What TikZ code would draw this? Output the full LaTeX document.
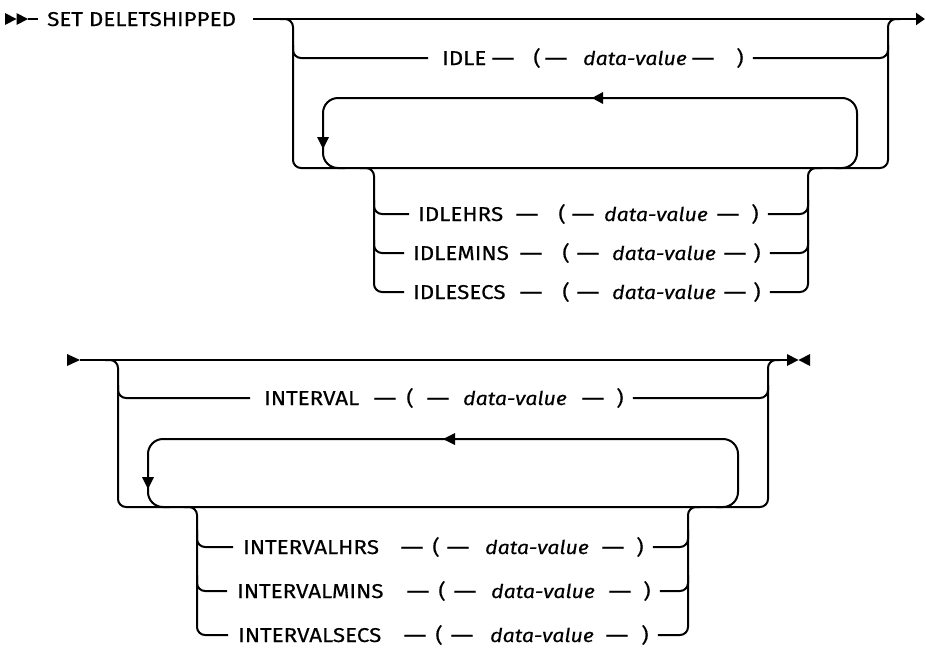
\documentclass[tikz,border=0pt]{standalone}
\usepackage{fontspec}
\setmainfont[FakeStretch=1.12,FakeBold=0.35]{Fira Sans}
\usetikzlibrary{arrows.meta}
\newcommand\bigf{\fontsize{20}{24}\selectfont}
\newcommand\longdash{\scalebox{1.3}[1]{\textemdash}}
\tikzset{
  rail/.style={line width=2pt, rounded corners=8pt},
  looprail/.style={line width=2pt, rounded corners=15pt},
  kw/.style={inner sep=0pt, anchor=base west, font=\bigf},
  sym/.style={inner sep=0pt, anchor=base, font=\bigf},
  dvs/.style={inner sep=0pt, anchor=base, font=\fontsize{19}{23}\selectfont\itshape},
  arrowhd/.style={fill=black, draw=none}
}
\newcommand\rowA[7]{%
  \node[kw] (#1k) at (#3,#2+7) {#4};
  \node[sym] (#1d1) at (#5,#2+7) {\longdash};
  \node[sym] (#1lp) at (#6,#2+7) {(};
  \node[sym] (#1d2) at (#7,#2+7) {\longdash};}
\newcommand\rowB[5]{%
  \node[dvs] (#1dv) at (#3,#2+7) {data-value};
  \node[sym] (#1d3) at (#4,#2+7) {\longdash};
  \node[sym] (#1rp) at (#5,#2+7) {)};}
\begin{document}
\begin{tikzpicture}[x=1pt,y=-1pt]
\useasboundingbox (0,0) rectangle (926,651);
% ---------------- top diagram ----------------
\fill[arrowhd] (5,13) -- (16.5,19) -- (5,25) -- cycle;
\fill[arrowhd] (16.5,13) -- (28,19) -- (16.5,25) -- cycle;
\coordinate (s0) at (28,19);
\node[kw] (set) at (47,26) {SET DELETSHIPPED};
\draw[line width=2pt] (s0) -- ([xshift=-9pt]set.west |- s0);
\coordinate (t0) at (253,19);
\coordinate (tEnd) at (925,19);
\draw[line width=2pt, -{Triangle[length=9pt,width=12pt]}] (t0) -- (tEnd);
% outer bracket
\draw[rail] (280,19) -- (293,19) -- (293,168) -- (888,168) -- (888,19) -- (900,19);
% IDLE row
\rowA{idle}{58}{442}{IDLE}{503}{537}{556}
\rowB{idle}{58}{635}{703}{740}
\draw[rail] (293,45) -- (293,58) -- ([xshift=-14pt]idlek.west |- 0,58);
\draw[rail] ([xshift=9pt]idlerp.east |- 0,58) -- (888,58) -- (888,45);
% repeat loop
\draw[looprail] (835,168) -- (857,168) -- (857,98) -- (323,98) -- (323,168) -- (345,168);
\fill[arrowhd] (592,98) -- (603,92) -- (603,104) -- cycle;
\fill[arrowhd] (323,149) -- (317,137) -- (329,137) -- cycle;
% sub group
\rowA{hrs}{214}{418}{IDLEHRS}{527}{562}{583}
\rowB{hrs}{214}{656}{728}{755}
\rowA{mins}{253}{413}{IDLEMINS}{531}{566}{588}
\rowB{mins}{253}{664}{735}{757}
\rowA{secs}{292}{413}{IDLESECS}{531}{566}{588}
\rowB{secs}{292}{664}{735}{757}
\draw[rail] (360,168) -- (374,168) -- (374,292) -- ([xshift=-9pt]secsk.west |- 0,292);
\draw[rail] (374,200) -- (374,214) -- ([xshift=-9pt]hrsk.west |- 0,214);
\draw[rail] (374,240) -- (374,253) -- ([xshift=-9pt]minsk.west |- 0,253);
\draw[rail] ([xshift=9pt]secsrp.east |- 0,292) -- (808,292) -- (808,168) -- (822,168);
\draw[rail] ([xshift=9pt]hrsrp.east |- 0,214) -- (808,214) -- (808,200);
\draw[rail] ([xshift=9pt]minsrp.east |- 0,253) -- (808,253) -- (808,240);
% ---------------- bottom diagram ----------------
\fill[arrowhd] (67,354) -- (80,360) -- (67,366) -- cycle;
\coordinate (b0) at (80,360);
\coordinate (b1) at (787,360);
\draw[line width=2pt] (b0) -- (b1);
\fill[arrowhd] (787,354) -- (798.5,360) -- (787,366) -- cycle;
\fill[arrowhd] (810,354) -- (798.5,360) -- (810,366) -- cycle;
\draw[rail] (105,360) -- (118,360) -- (118,507) -- (768,507) -- (768,360) -- (780,360);
\rowA{ivl}{398}{264}{INTERVAL}{385}{410}{438}
\rowB{ivl}{398}{515}{593}{620}
\draw[rail] (118,385) -- (118,398) -- ([xshift=-14pt]ivlk.west |- 0,398);
\draw[rail] ([xshift=9pt]ivlrp.east |- 0,398) -- (768,398) -- (768,385);
\draw[looprail] (716,507) -- (738,507) -- (738,439) -- (148,439) -- (148,507) -- (170,507);
\fill[arrowhd] (443,439) -- (455,433) -- (455,445) -- cycle;
\fill[arrowhd] (148,489) -- (142,477) -- (154,477) -- cycle;
\rowA{ihrs}{547}{243}{INTERVALHRS}{412}{436}{458}
\rowB{ihrs}{547}{537}{613}{640}
\rowA{imins}{591}{237}{INTERVALMINS}{418}{442}{465}
\rowB{imins}{591}{543}{620}{647}
\rowA{isecs}{635}{238}{INTERVALSECS}{415}{439}{462}
\rowB{isecs}{635}{542}{617}{645}
\draw[rail] (184,507) -- (197,507) -- (197,635) -- ([xshift=-10pt]isecsk.west |- 0,635);
\draw[rail] (197,530) -- (197,547) -- ([xshift=-10pt]ihrsk.west |- 0,547);
\draw[rail] (197,575) -- (197,591) -- ([xshift=-10pt]iminsk.west |- 0,591);
\draw[rail] ([xshift=9pt]isecsrp.east |- 0,635) -- (688,635) -- (688,507) -- (700,507);
\draw[rail] ([xshift=9pt]ihrsrp.east |- 0,547) -- (688,547) -- (688,530);
\draw[rail] ([xshift=9pt]iminsrp.east |- 0,591) -- (688,591) -- (688,575);
\end{tikzpicture}
\end{document}
